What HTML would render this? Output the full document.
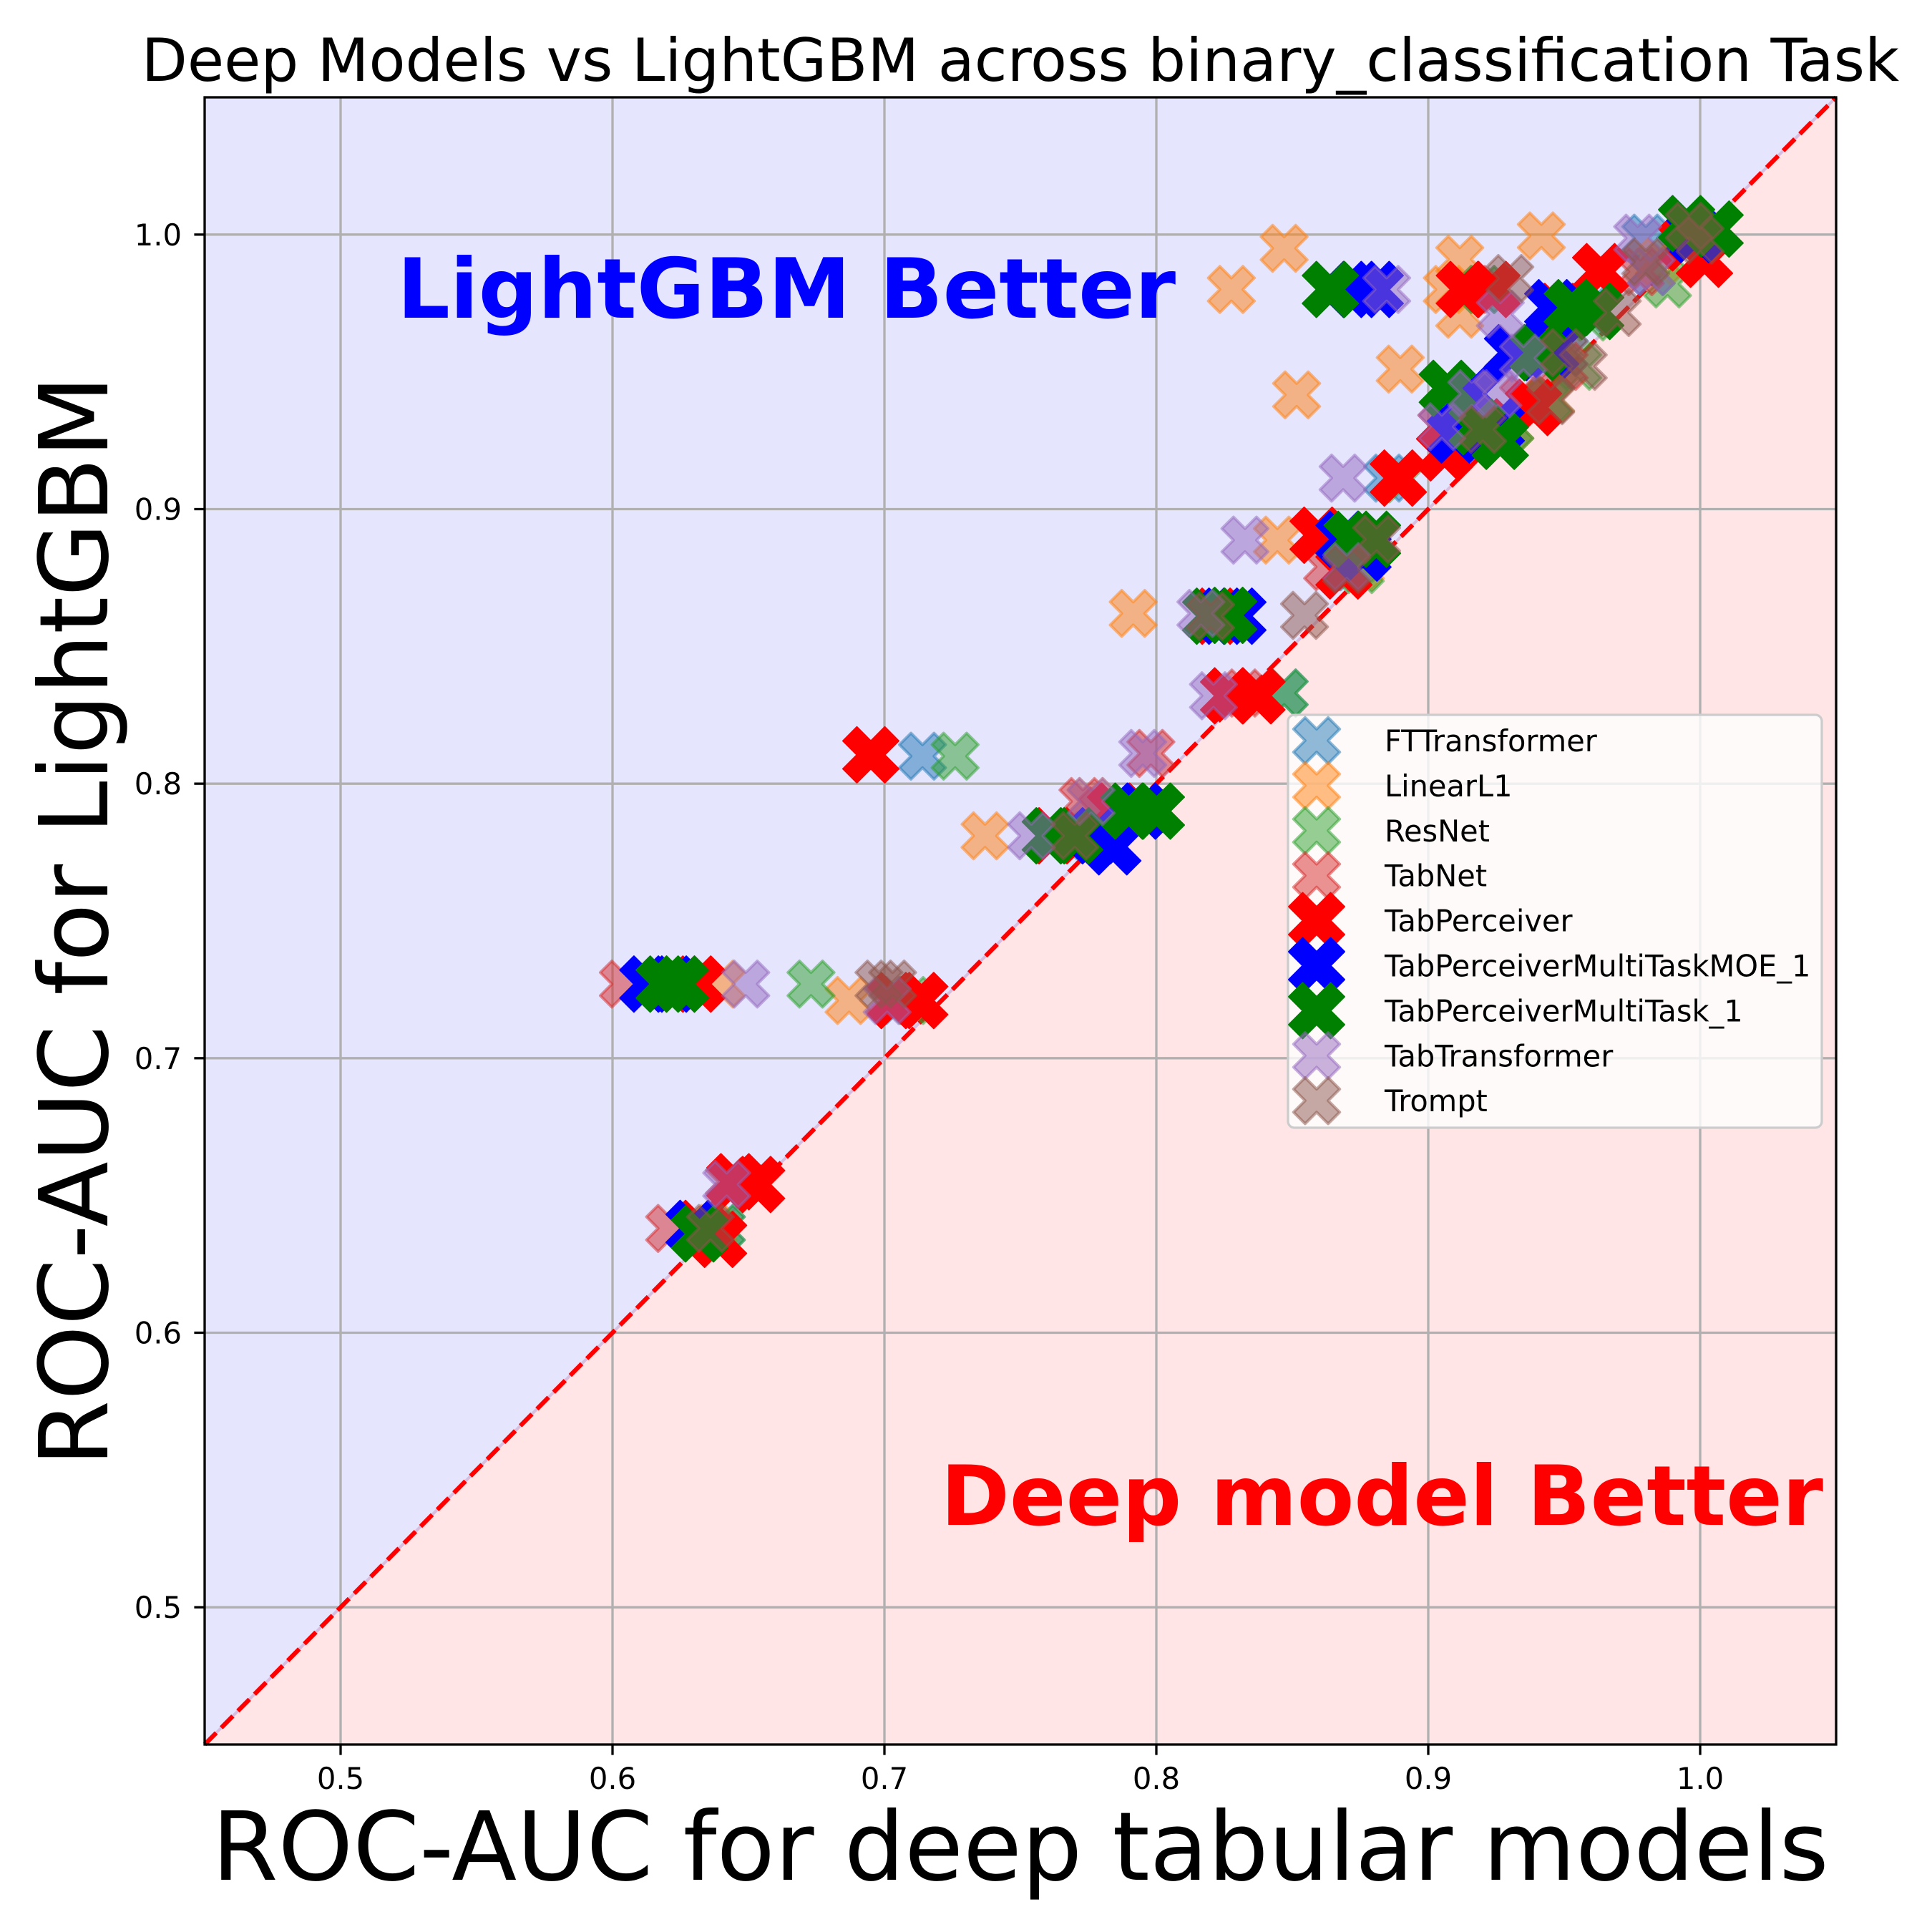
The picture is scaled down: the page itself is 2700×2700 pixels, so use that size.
<!DOCTYPE html>
<html><head><meta charset="utf-8"><style>
html,body{margin:0;padding:0;background:#fff;}
svg{display:block;font-family:"DejaVu Sans","Liberation Sans",sans-serif;}
</style></head><body>
<svg id="chart" width="2700" height="2700" viewBox="0 0 2700 2700" xmlns="http://www.w3.org/2000/svg">
<rect x="0" y="0" width="2700" height="2700" fill="#ffffff"/>
<g id="bg"></g>
<g id="grid"></g>
<g id="diag"></g>
<g id="marks"></g>
<g id="axes"></g>
<text x="1426" y="113" font-size="83.3" text-anchor="middle" fill="#000">Deep Models vs LightGBM across binary_classification Task</text>
<text x="1426" y="2627" font-size="133" text-anchor="middle" fill="#000">ROC-AUC for deep tabular models</text>
<text x="0" y="0" font-size="133" text-anchor="middle" fill="#000" transform="translate(150,1287) rotate(-90)">ROC-AUC for LightGBM</text>
<text x="555" y="444" font-size="116" font-weight="bold" fill="#0000ff">LightGBM Better</text>
<text x="2548" y="2131" font-size="116" font-weight="bold" text-anchor="end" fill="#ff0000">Deep model Better</text>
<g id="legend"></g>
</svg>
<script>
const xTicks = [0.5, 0.6, 0.7, 0.8, 0.9, 1.0];
const yTicks = [0.5, 0.6, 0.7, 0.8, 0.9, 1.0];
const xTickLabels = ["0.5", "0.6", "0.7", "0.8", "0.9", "1.0"];
const yTickLabels = ["0.5", "0.6", "0.7", "0.8", "0.9", "1.0"];
const seriesNames = ["FTTransformer","LinearL1","ResNet","TabNet","TabPerceiver","TabPerceiverMultiTaskMOE_1","TabPerceiverMultiTask_1","TabTransformer","Trompt"];
const ftX = [0.714,0.705,0.620,0.640,0.885,0.872,0.847,0.826,0.785,0.775,0.916,0.930,0.950,0.980,0.982,0.920,0.960,1.000,0.945];
const ftY = [0.810,0.721,0.727,0.638,0.9113,0.879,0.833,0.861,0.790,0.781,0.942,0.930,0.957,0.9987,0.9865,0.980,0.972,1.000,0.940];
const linX = [0.8276,0.847,0.907,0.9116,0.9116,0.9416,0.8516,0.8897,0.8445,0.7915,0.737,0.776,0.687,0.640,0.637,0.645,0.875,0.930,0.945,0.985,0.962,0.915];
const linY = [0.980,0.995,0.980,0.991,0.971,0.9995,0.9416,0.951,0.8887,0.862,0.781,0.7935,0.721,0.727,0.638,0.655,0.879,0.930,0.940,0.990,0.972,0.927];
const resX = [0.726,0.673,0.847,0.988,0.640,0.710,0.875,0.762,0.930,0.955,0.920,0.820,0.944,0.960,1.000,0.890];
const resY = [0.810,0.727,0.833,0.982,0.638,0.721,0.878,0.781,0.930,0.952,0.980,0.861,0.940,0.970,1.000,0.911];
const tnX = [0.604,0.621,0.702,0.798,0.832,0.863,0.643,0.773,0.905,0.925,0.950,0.978,0.820,0.935,0.995,0.780];
const tnY = [0.727,0.638,0.721,0.811,0.833,0.879,0.655,0.7935,0.930,0.980,0.952,0.9865,0.861,0.940,0.998,0.790];
const tpX = [0.695,0.625,0.631,0.713,0.704,0.632,0.639,0.645,0.653,0.8266,0.837,0.889,0.8595,0.869,0.9133,0.9234,0.9634,1.0016,0.9387,0.906,0.762,0.785,0.822,0.948,0.920,0.995];
const tpY = [0.8105,0.727,0.727,0.721,0.721,0.638,0.634,0.655,0.654,0.832,0.832,0.9113,0.8905,0.8775,0.980,0.980,0.9865,0.991,0.937,0.9205,0.781,0.790,0.861,0.972,0.930,0.997];
const moeX = [0.613,0.622,0.778,0.784,0.7945,0.830,0.8245,0.874,0.8805,0.869,0.876,0.9458,0.931,0.916,0.925,0.945,0.998,0.630,0.910];
const moeY = [0.727,0.727,0.781,0.777,0.790,0.861,0.861,0.980,0.980,0.889,0.884,0.9734,0.957,0.942,0.930,0.958,1.000,0.638,0.927];
const mtX = [0.619,0.625,0.761,0.770,0.790,0.800,0.8266,0.820,0.864,0.872,0.8795,0.907,0.9265,0.953,0.9616,0.9405,0.995,1.0055,0.632,0.918];
const mtY = [0.727,0.727,0.781,0.781,0.790,0.790,0.8613,0.861,0.980,0.889,0.889,0.944,0.9247,0.9734,0.972,0.957,1.004,1.002,0.636,0.930];
const ttX = [0.649,0.701,0.642,0.754,0.776,0.795,0.821,0.8687,0.8326,0.8164,0.8847,0.9265,0.916,0.9256,0.935,0.977,0.982,0.905,0.870];
const ttY = [0.727,0.721,0.654,0.781,0.7935,0.811,0.832,0.9113,0.8887,0.862,0.980,0.971,0.942,0.942,0.955,0.9987,0.9865,0.930,0.879];
const trX = [0.698,0.703,0.8545,0.881,0.930,0.9695,0.950,0.957,0.945,0.920,0.996,1.000,0.770,0.636,0.870,0.980,0.820];
const trY = [0.727,0.727,0.8613,0.889,0.984,0.9716,0.957,0.952,0.9395,0.929,1.003,0.998,0.781,0.638,0.878,0.990,0.861];

const NS = "http://www.w3.org/2000/svg";
const L = 286, R = 2566, T = 136, B = 2438;
const X0 = 0.45, X1 = 1.05, Y0 = 0.45, Y1 = 1.05;
function sx(v){ return L + (v - X0) / (X1 - X0) * (R - L); }
function sy(v){ return B - (v - Y0) / (Y1 - Y0) * (B - T); }
function mk(tag, attrs, parent){
  const e = document.createElementNS(NS, tag);
  for (const k in attrs) e.setAttribute(k, attrs[k]);
  parent.appendChild(e);
  return e;
}
const bg = document.getElementById('bg');
let e = mk('polygon', {points: `${L},${B} ${L},${T} ${R},${T}`, fill: '#e5e5fe'}, bg);


e = mk('polygon', {points: `${L},${B} ${R},${T} ${R},${B}`, fill: '#ffe5e6'}, bg);



const grid = document.getElementById('grid');
xTicks.forEach((t) => {
  const g = mk('line', {x1: sx(t), x2: sx(t), y1: T, y2: B, stroke: '#b0b0b0', 'stroke-width': 3.3}, grid);
  
  
});
yTicks.forEach((t) => {
  const g = mk('line', {x1: L, x2: R, y1: sy(t), y2: sy(t), stroke: '#b0b0b0', 'stroke-width': 3.3}, grid);
  
  
});

const diag = document.getElementById('diag');
e = mk('line', {x1: sx(0.45), y1: sy(0.45), x2: sx(1.05), y2: sy(1.05), stroke: '#d8bfe0', 'stroke-width': 4}, diag);


e = mk('line', {x1: sx(0.45), y1: sy(0.45), x2: sx(1.05), y2: sy(1.05), stroke: '#ff0000', 'stroke-width': 6.25, 'stroke-dasharray': '23 10'}, diag);



function xPoints(cx, cy, u){
  const base = [[-0.5,-1.5],[0.5,-1.5],[0.5,-0.5],[1.5,-0.5],[1.5,0.5],[0.5,0.5],[0.5,1.5],[-0.5,1.5],[-0.5,0.5],[-1.5,0.5],[-1.5,-0.5],[-0.5,-0.5]];
  const c = Math.SQRT1_2;
  return base.map(p => [cx + (p[0]-p[1])*c*u, cy + (p[0]+p[1])*c*u].map(v => v.toFixed(1)).join(',')).join(' ');
}
const seriesX = [ftX, linX, resX, tnX, tpX, moeX, mtX, ttX, trX];
const seriesY = [ftY, linY, resY, tnY, tpY, moeY, mtY, ttY, trY];
const colors = ['#1f77b4','#ff7f0e','#2ca02c','#d62728','#ff0000','#0000ff','#008000','#9467bd','#8c564b'];
const big = [false,false,false,false,true,true,true,false,false];
function styleFor(i){
  if (big[i]) return {u: 27.6, op: 1, sw: 2};
  return {u: 22.8, op: 0.5, sw: 4};
}
const marks = document.getElementById('marks');
seriesNames.forEach((name, i) => {
  const g = mk('g', {}, marks);
  
  
  const st = styleFor(i);
  seriesX[i].forEach((xv, j) => {
    const p = mk('polygon', {points: xPoints(sx(xv), sy(seriesY[i][j]), st.u), fill: colors[i], 'fill-opacity': st.op, stroke: colors[i], 'stroke-opacity': st.op, 'stroke-width': st.sw, 'stroke-linejoin': 'round'}, g);
    
    
  });
});

const axes = document.getElementById('axes');
e = mk('rect', {x: L, y: T, width: R-L, height: B-T, fill: 'none', stroke: '#000', 'stroke-width': 3.3}, axes);


xTicks.forEach((t, i) => {
  const tk = mk('line', {x1: sx(t), x2: sx(t), y1: B, y2: B + 14.6, stroke: '#000', 'stroke-width': 3.3}, axes);
  
  
  const tx = mk('text', {x: sx(t), y: B + 62, 'font-size': 41.7, 'text-anchor': 'middle', fill: '#000'}, axes);
  tx.textContent = xTickLabels[i];
  
  
});
yTicks.forEach((t, i) => {
  const tk = mk('line', {x1: L - 14.6, x2: L, y1: sy(t), y2: sy(t), stroke: '#000', 'stroke-width': 3.3}, axes);
  
  
  const tx = mk('text', {x: L - 32, y: sy(t) + 15, 'font-size': 41.7, 'text-anchor': 'end', fill: '#000'}, axes);
  tx.textContent = yTickLabels[i];
  
  
});

const leg = document.getElementById('legend');
e = mk('rect', {x: 1800, y: 999, width: 746, height: 577, rx: 9, fill: '#ffffff', 'fill-opacity': 0.8, stroke: '#cccccc', 'stroke-width': 3.3}, leg);


seriesNames.forEach((name, i) => {
  const cy = 1035 + i * 62.9;
  const st = styleFor(i);
  const g = mk('g', {}, leg);
  
  
  const p = mk('polygon', {points: xPoints(1840, cy, st.u), fill: colors[i], 'fill-opacity': st.op, stroke: colors[i], 'stroke-opacity': st.op, 'stroke-width': st.sw, 'stroke-linejoin': 'round'}, g);
  
  
  const t = mk('text', {x: 1935, y: cy + 15, 'font-size': 41.5, fill: '#000'}, g);
  t.textContent = name;
  
  
});
</script>
</body></html>
